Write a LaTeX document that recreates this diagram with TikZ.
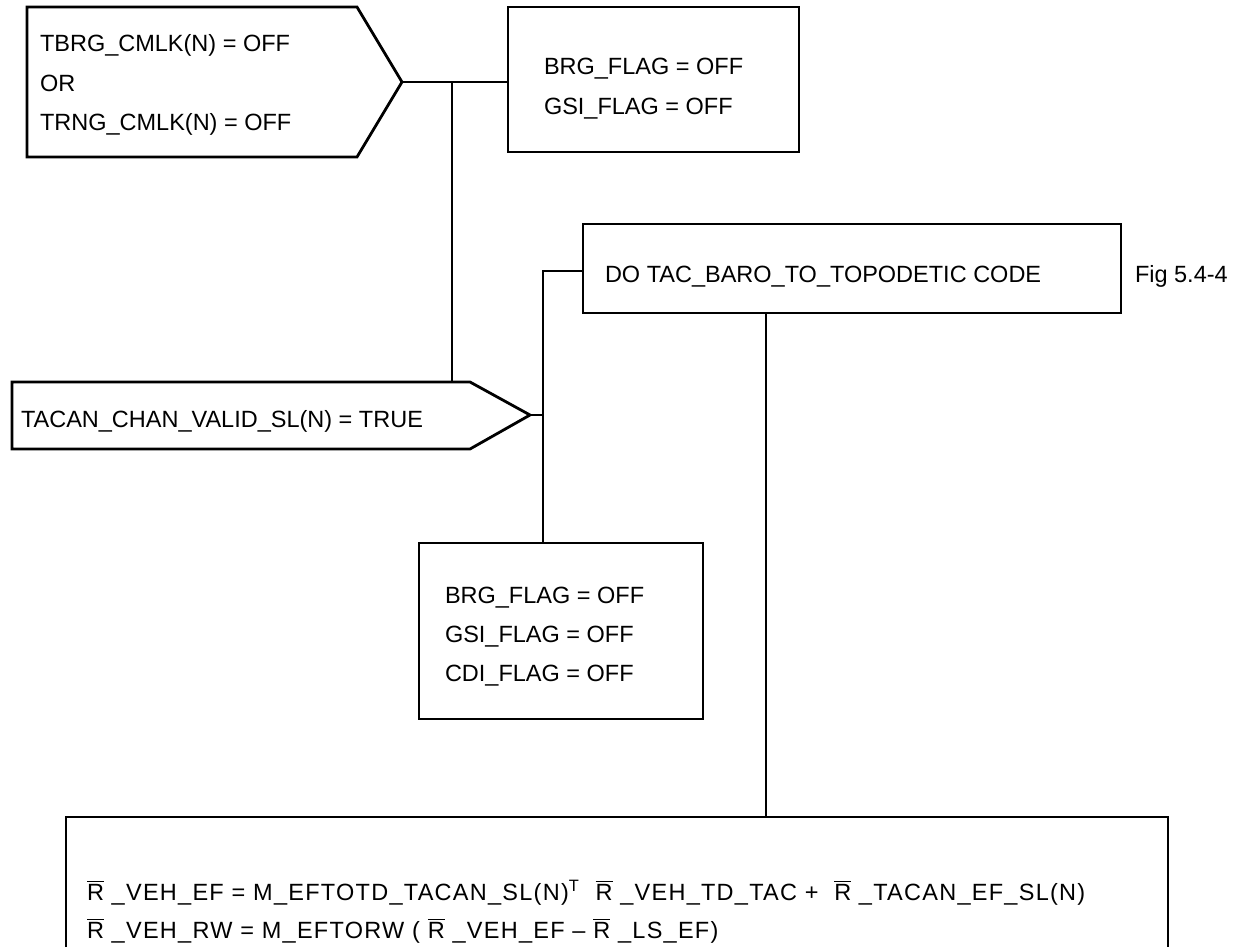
\documentclass[tikz,border=0pt]{standalone}
\usepackage{fontspec}
\setmainfont{Liberation Sans}
\newcommand\mainsize{\fontsize{11.75}{14}\selectfont}
\newcommand\Rb{\ensuremath{\overline{\mbox{R}}}}
\begin{document}
\begin{tikzpicture}[x=0.5pt,y=-0.5pt,line width=1.4pt,line join=miter,
  box/.style={draw,rectangle,inner sep=0pt,outer sep=0pt,anchor=north west},
  txt/.style={anchor=base west,inner sep=0pt,outer sep=0pt,font=\mainsize},
  eqtxt/.style={txt,font=\mainsize\addfontfeature{LetterSpace=5.4}}]
\useasboundingbox (0,0) rectangle (1235,947);

% decision 1 (pentagon)
\draw (27,7) -- (357,7) -- (402,82) -- (357,157) -- (27,157) -- cycle;
\coordinate (c1tip) at (402,82);
\node[txt] (t1a) at (40,52) {TBRG\_CMLK(N) = OFF};
\node[txt] (t1b) at (40,91.5) {OR};
\node[txt] (t1c) at (40,130.5) {TRNG\_CMLK(N) = OFF};

% flags box 1
\node[box,minimum width=145.5pt,minimum height=72.5pt] (flags1) at (508,7) {};
\node[txt] (f1a) at (544,75) {BRG\_FLAG = OFF};
\node[txt] (f1b) at (544,114) {GSI\_FLAG = OFF};

% DO box
\node[box,minimum width=269pt,minimum height=44.5pt] (do) at (583,224) {};
\node[txt] (dot) at (605,282) {DO TAC\_BARO\_TO\_TOPODETIC CODE};
\node[txt] (fig) at (1135,282) {Fig 5.4-4};

% decision 2 (pentagon)
\draw (12,382) -- (470,382) -- (530,415) -- (470,449) -- (12,449) -- cycle;
\coordinate (tacTip) at (530,415);
\coordinate (tacTop) at (452,382);
\node[txt] (t2) at (21,427) {TACAN\_CHAN\_VALID\_SL(N) = TRUE};

% flags box 2
\node[box,minimum width=142pt,minimum height=88pt] (flags2) at (419,543) {};
\node[txt] (f2a) at (445,603) {BRG\_FLAG = OFF};
\node[txt] (f2b) at (445,642) {GSI\_FLAG = OFF};
\node[txt] (f2c) at (445,681) {CDI\_FLAG = OFF};

% equation box (open at the bottom)
\draw (66,947) -- (66,817) -- (1168,817) -- (1168,947);
\coordinate (eqTop) at (766,817);
\node[eqtxt] (e1) at (87,900) {\Rb\ \_VEH\_EF = M\_EFTOTD\_TACAN\_SL(N)\textsuperscript{T}\ \ \Rb\ \_VEH\_TD\_TAC +\ \ \Rb\ \_TACAN\_EF\_SL(N)};
\node[eqtxt] (e2) at (87,938) {\Rb\ \_VEH\_RW = M\_EFTORW ( \Rb\ \_VEH\_EF – \Rb\ \_LS\_EF)};

% connectors
\coordinate (j1) at (452,82);
\draw (c1tip) -- (c1tip -| flags1.west);
\draw (j1) -- (tacTop);
\coordinate (j2) at (543,415);
\coordinate (j3) at (543,271);
\draw (tacTip) -- (j2);
\draw (j3 -| do.west) -- (j3) -- (j3 |- flags2.north);
\draw (do.south -| eqTop) -- (eqTop);
\end{tikzpicture}
\end{document}
